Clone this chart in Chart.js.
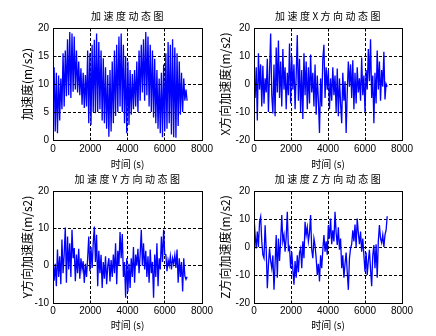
<!DOCTYPE html>
<html>
<head>
<meta charset="utf-8">
<script src="https://cdn.jsdelivr.net/npm/chart.js@4/dist/chart.umd.min.js"></script>
<style>
  html, body { margin: 0; padding: 0; background: #fff; }
  #fig { position: relative; width: 436px; height: 336px; overflow: hidden; background: #fff; }
  .cell { position: absolute; }
  canvas { display: block; }
</style>
</head>
<body>
<div id="fig">
  <div class="cell" style="left:0;top:0"><canvas id="c1" width="218" height="172"></canvas></div>
  <div class="cell" style="left:218px;top:0"><canvas id="c2" width="218" height="172"></canvas></div>
  <div class="cell" style="left:0;top:168px"><canvas id="c3" width="218" height="168"></canvas></div>
  <div class="cell" style="left:218px;top:168px"><canvas id="c4" width="218" height="168"></canvas></div>
</div>
<script>
// Sample times (s)
const timeSec = [0,60,120,180,240,300,360,420,480,540,600,660,720,780,840,900,960,1020,1080,1140,
  1200,1260,1320,1380,1440,1500,1560,1620,1680,1740,1800,1860,1920,1980,2040,2100,2160,2220,2280,2340,
  2400,2460,2520,2580,2640,2700,2760,2820,2880,2940,3000,3060,3120,3180,3240,3300,3360,3420,3480,3540,
  3600,3660,3720,3780,3840,3900,3960,4020,4080,4140,4200,4260,4320,4380,4440,4500,4560,4620,4680,4740,
  4800,4860,4920,4980,5040,5100,5160,5220,5280,5340,5400,5460,5520,5580,5640,5700,5760,5820,5880,5940,
  6000,6060,6120,6180,6240,6300,6360,6420,6480,6540,6600,6660,6720,6780,6840,6900,6960,7020,7080,7140,7200];

// Total acceleration magnitude (m/s2)
const accelTotal = [9,13,1.5,12,1.2,11.5,3.5,11,5.5,15.5,6,16,7.8,18,8,19.3,7.5,19,8.6,18.5,
  9,16,8.5,14,8,12.8,6.3,12,5.7,11.6,6,16,3,15.5,2.7,17,5,17.9,4.8,19,
  5,17.5,5.5,16,3.5,14.6,3,13,2,11.6,0.6,12.5,1.5,14,3,16,4.3,17,5,18.5,
  6,19,5,17,3,15,1.2,14,2.7,12.5,4.5,11.8,5.5,12.5,6,14,5,16,7,17,
  8.5,18,7,19.3,8,18.5,6,17,5,16,4,14.5,3,12.5,2,11,1.2,12,0.5,13.5,
  1.5,15.5,2,17.5,3,17,1,18,0.5,16.5,0.4,15.5,2.5,14,4.5,12,5,11,7,9,7];

// X-axis acceleration (m/s2)
const accelX = [3,-5,6,-13,11,-2,7,-8,6.5,-7,2,-3,9,-10,4,18,-4,-10.5,7,-11.5,
  13,-3,15.5,-5,8,-8,12.5,-2,6,-9,4,-4,14.5,-7,10,-2,7,-9,3,17.5,
  -6,9,-10,5,-12.5,11,-4,8,-9,6,-7,10.5,-3,4,-8,7,-11,3,-6,-17.5,
  2,-8,9,14,-5,6,-2,5,-9,2,-6,6,-4,3,-10,5.5,-11.5,2,-7,-14,
  4,-6,1,-17.5,-3,8,-1,7,-5,8.5,-9,4,-7,6,-3,2,-6,9.5,-4,3,
  -10,5,-2,12.5,1,16,-5,3,-14,4,-7,12,-2,8,-6,5,-1,11.5,-5.5,0,-1];

// Y-axis acceleration (m/s2)
const accelY = [1.5,-4,0.5,-5.5,4.3,-3,2.5,-5,7,-2,3,10.2,-4.6,7.8,-1,6,-3,9.6,2,4.7,
  -4.2,3,-2,4.5,-3.5,2,-1,1.2,-4.6,0.5,-3,2,7.8,-1.5,5,-0.6,6,10.5,1,8.3,
  -5.5,4,-2,2.9,-6,1,-3.5,2.5,-5,0,2,-4.2,1.5,-3,3,-2,6,-5,4,0,
  9,2,8.5,-3,1,-8.6,2,-7,0.5,-6,2,-3,5,-4.6,3,0,4.5,-2,3,9.6,
  0,6,-1,4,-3,2.5,-4.6,4.3,-2,1,-8.6,3,-3,6,-5.5,2,-1,7.8,1,9.6,
  3,2.9,-1.5,1.5,0,2.5,-1,2,0.5,2.8,-0.6,4.3,-4.6,2,-3,1,-6.9,2,-2.8,-3.7,-3];

// Z-axis acceleration (m/s2)
const accelZ = [10.8,4.3,-0.5,5.5,0,9,10.8,2,-2.8,-4,7.8,-1,-14.7,-6.4,-0.5,-5,-7.6,-3,-15.3,-6,
  4.3,-11,3,-5,2,11.4,2,4.3,-1.7,3.5,12.6,-1,0,-7.6,-1.7,-8,-13.5,-5,-11,-3,
  -9,-2,-0.5,-7.6,2,-4,9,4.3,7,2,5,11.4,-1,-4,3,0.5,-4,-10,-6,-12.3,
  -3,-7.6,-1,4.3,-1.7,2,-2.8,7.8,3,10.2,1,6,2,12.6,5,0.7,7,-1,3,-7.6,
  -3,-11,-6,-2,-9,-15.3,-4,-0.5,1,6,2,8,0,10.2,5,1,5.5,-1.7,3,-3,
  -8.8,-2,-10,-5,-1,-8,-14,-3,0.7,-7.6,1,-11,2,7.8,3,1.5,4.3,0,4.3,6,11];

// Axis tick values
const timeTicks = [0, 2000, 4000, 6000, 8000];
const totalTicks = [0, 5, 10, 15, 20];
const xTicks = [-20, -10, 0, 10, 20];
const yTicks = [-10, 0, 10, 20];
const zTicks = [-20, -10, 0, 10, 20];

// Panel texts
const panelTitles = ['加速度动态图', '加速度X方向动态图', '加速度Y方向动态图', '加速度Z方向动态图'];
const yLabels = ['加速度(m/s2)', 'X方向加速度(m/s2)', 'Y方向加速度(m/s2)', 'Z方向加速度(m/s2)'];
const xLabel = '时间 (s)';

const CJK = '"Noto Sans CJK SC", "Noto Sans", sans-serif';
const LATIN = '"Liberation Sans", Arial, sans-serif';

// Centered panel title with MATLAB-like character spacing
const panelTitle = {
  id: 'panelTitle',
  afterDraw(chart, args, opts) {
    const { ctx, chartArea } = chart;
    ctx.save();
    ctx.font = '10px ' + CJK;
    ctx.fillStyle = '#000';
    ctx.textAlign = 'center';
    ctx.textBaseline = 'middle';
    if ('letterSpacing' in ctx) ctx.letterSpacing = '2.5px';
    ctx.fillText(opts.text, (chartArea.left + chartArea.right) / 2 + 1, opts.y);
    ctx.restore();
  }
};

// Boxed axes with inward tick marks on all four sides
const axesBox = {
  id: 'axesBox',
  afterDatasetsDraw(chart) {
    const { ctx, chartArea: a, scales } = chart;
    const al = v => Math.round(v - 0.5) + 0.5;
    const L = al(a.left), R = al(a.right), T = al(a.top), B = al(a.bottom);
    ctx.save();
    ctx.strokeStyle = '#000';
    ctx.lineWidth = 1;
    ctx.setLineDash([]);
    ctx.strokeRect(L, T, R - L, B - T);
    ctx.beginPath();
    scales.x.ticks.forEach(t => {
      const px = al(scales.x.getPixelForValue(t.value));
      ctx.moveTo(px, B); ctx.lineTo(px, B - 3);
      ctx.moveTo(px, T); ctx.lineTo(px, T + 3);
    });
    scales.y.ticks.forEach(t => {
      const py = al(scales.y.getPixelForValue(t.value));
      ctx.moveTo(L, py); ctx.lineTo(L + 3, py);
      ctx.moveTo(R, py); ctx.lineTo(R - 3, py);
    });
    ctx.stroke();
    ctx.restore();
  }
};

function gridColor(min, max) {
  return c => (c.tick && (c.tick.value === min || c.tick.value === max)) ? 'rgba(0,0,0,0)' : '#000';
}

const plainNumber = v => String(v);

function makePanel(id, values, yTickVals, title, yLabel, geo) {
  const yMin = yTickVals[0], yMax = yTickVals[yTickVals.length - 1];
  const xMin = timeTicks[0], xMax = timeTicks[timeTicks.length - 1];
  new Chart(document.getElementById(id), {
    type: 'line',
    data: {
      datasets: [{
        data: timeSec.map((t, i) => ({ x: t, y: values[i] })),
        borderColor: '#0000ff',
        borderWidth: 1.3,
        pointRadius: 0,
        tension: 0,
        fill: false
      }]
    },
    plugins: [panelTitle, axesBox],
    options: {
      responsive: false,
      animation: false,
      events: [],
      layout: { padding: { top: geo.top, right: geo.right, bottom: 0, left: 0 } },
      plugins: {
        legend: { display: false },
        tooltip: { enabled: false },
        panelTitle: { text: title, y: geo.titleY }
      },
      scales: {
        x: {
          type: 'linear',
          min: xMin, max: xMax,
          afterBuildTicks: s => { s.ticks = timeTicks.map(v => ({ value: v })); },
          afterFit: s => { s.height = geo.xh; },
          ticks: { color: '#000', font: { family: LATIN, size: 10 }, padding: geo.xtp, maxRotation: 0, autoSkip: false, callback: plainNumber },
          grid: { color: gridColor(xMin, xMax), lineWidth: 1, drawTicks: false },
          border: { display: false, dash: [3, 2] },
          title: { display: true, text: xLabel, color: '#000', font: { family: CJK, size: 10, lineHeight: 1.2 }, padding: { top: 0, bottom: geo.xlb } }
        },
        y: {
          type: 'linear',
          min: yMin, max: yMax,
          afterBuildTicks: s => { s.ticks = yTickVals.map(v => ({ value: v })); },
          afterFit: s => { s.width = geo.left; },
          ticks: { color: '#000', font: { family: LATIN, size: 10 }, padding: 4, callback: plainNumber },
          grid: { color: gridColor(yMin, yMax), lineWidth: 1, drawTicks: false },
          border: { display: false, dash: [3, 2] },
          title: { display: true, text: yLabel, color: '#000', font: { family: CJK, size: 12, lineHeight: 1 }, padding: { top: geo.ylt, bottom: 0 } }
        }
      }
    }
  });
}

const topRowL = { left: 53, right: 16, top: 28, xh: 32, xtp: 3, xlb: 2, ylt: 21, titleY: 16 };
const topRowR = { left: 36, right: 34, top: 28, xh: 32, xtp: 3, xlb: 2, ylt: 1, titleY: 16 };
const botRowL = { left: 53, right: 16, top: 23, xh: 33, xtp: 2, xlb: 5, ylt: 21, titleY: 11 };
const botRowR = { left: 36, right: 34, top: 23, xh: 33, xtp: 2, xlb: 5, ylt: 1, titleY: 11 };

makePanel('c1', accelTotal, totalTicks, panelTitles[0], yLabels[0], topRowL);
makePanel('c2', accelX, xTicks, panelTitles[1], yLabels[1], topRowR);
makePanel('c3', accelY, yTicks, panelTitles[2], yLabels[2], botRowL);
makePanel('c4', accelZ, zTicks, panelTitles[3], yLabels[3], botRowR);
</script>
</body>
</html>
